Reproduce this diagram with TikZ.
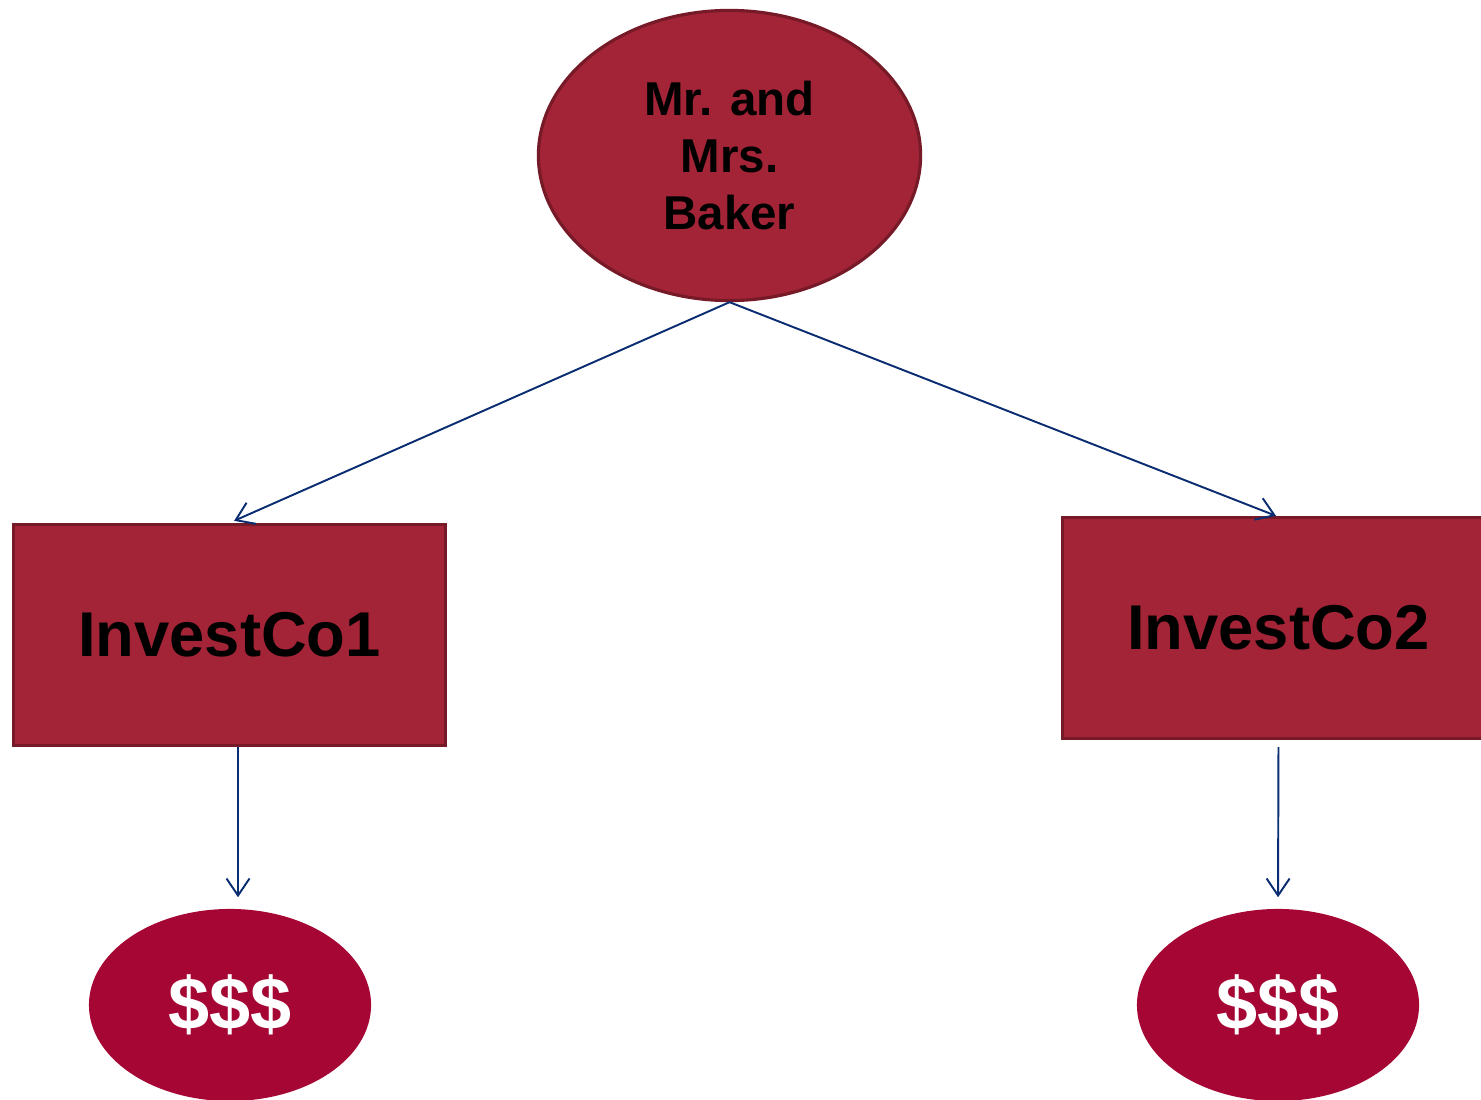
\documentclass[tikz,border=0pt]{standalone}
\usepackage{fontspec}
\setmainfont{Liberation Sans}
\usetikzlibrary{shapes.geometric,arrows.meta}
\definecolor{wine}{RGB}{163,36,55}
\definecolor{wineedge}{RGB}{118,26,40}
\definecolor{crimson}{RGB}{166,6,52}
\definecolor{navy}{RGB}{10,44,112}
\tikzset{
  x=0.01cm, y=-0.01cm,
  owner/.style={ellipse, draw=wineedge, line width=0.9pt, fill=wine, inner sep=0pt,
    minimum width=3.82cm, minimum height=2.9cm, align=center,
    font=\fontsize{13.5}{16.2}\selectfont\bfseries},
  company/.style={rectangle, draw=wineedge, line width=0.9pt, fill=wine, inner sep=0pt,
    minimum width=4.32cm, minimum height=2.21cm,
    font=\fontsize{18}{22}\selectfont\bfseries},
  money/.style={ellipse, fill=crimson, inner sep=0pt, text=white,
    minimum width=2.82cm, minimum height=1.92cm,
    font=\fontsize{21}{24}\selectfont\bfseries},
  conn/.style={draw=navy, line width=0.55pt,
    -{Straight Barb[length=1.7mm,width=2.3mm,line width=0.55pt]}}
}
\begin{document}
\begin{tikzpicture}
\useasboundingbox (0,0) rectangle (1481,1100);
\clip (0,0) rectangle (1481,1100);
% people at the top
\node[owner] (baker) at (729.5,155.5) {Mr. and\\Mrs.\\Baker};
% the two companies
\node[company] (co1) at (229.5,635) {InvestCo1};
\node[company] (co2) at (1278.5,628) {InvestCo2};
% cash flows
\node[money] (cash1) at (230,1005) {\$\$\$};
\node[money] (cash2) at (1278,1005) {\$\$\$};
% connectors
\draw[conn, shorten >=0.05cm] (baker.south) -- (co1.north);
\draw[conn] (baker.south) -- ([xshift=-0.025cm]co2.north);
\draw[conn, shorten >=0.11cm] ([xshift=0.085cm]co1.south) -- ([xshift=0.08cm]cash1.north);
\draw[conn, shorten <=0.07cm, shorten >=0.11cm] (co2.south) -- (cash2.north);
\end{tikzpicture}
\end{document}
